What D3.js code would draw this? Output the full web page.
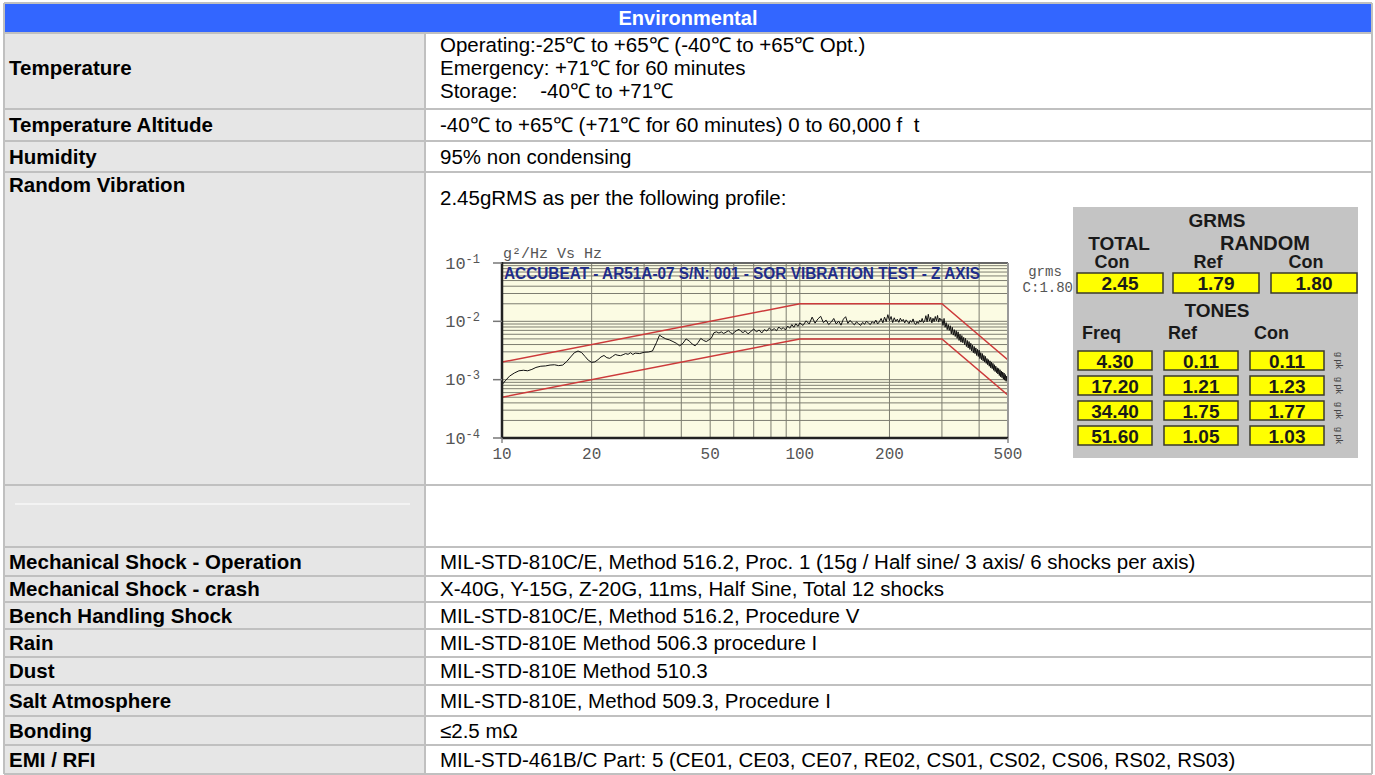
<!DOCTYPE html>
<html>
<head>
<meta charset="utf-8">
<script src="https://cdn.jsdelivr.net/npm/d3@7"></script>
<style>
  body { margin: 0; background: #fff; }
  svg text { font-family: "Liberation Sans", Arial, sans-serif; }
  svg text.mono { font-family: "Liberation Mono", "Courier New", monospace; }
</style>
</head>
<body>
<svg id="sheet"></svg>
<script>
// ---- table data ----
const headerTitle = 'Environmental';
const rowLabels = ['Temperature', 'Temperature Altitude', 'Humidity', 'Random Vibration', '',
  'Mechanical Shock - Operation', 'Mechanical Shock - crash', 'Bench Handling Shock', 'Rain',
  'Dust', 'Salt Atmosphere', 'Bonding', 'EMI / RFI'];
const rowValues = [
  ['Operating:-25℃ to +65℃ (-40℃ to +65℃ Opt.)', 'Emergency: +71℃ for 60 minutes', 'Storage:    -40℃ to +71℃'],
  ['-40℃ to +65℃ (+71℃ for 60 minutes) 0 to 60,000 f  t'],
  ['95% non condensing'],
  ['2.45gRMS as per the following profile:'],
  [''],
  ['MIL-STD-810C/E, Method 516.2, Proc. 1 (15g / Half sine/ 3 axis/ 6 shocks per axis)'],
  ['X-40G, Y-15G, Z-20G, 11ms, Half Sine, Total 12 shocks'],
  ['MIL-STD-810C/E, Method 516.2, Procedure V'],
  ['MIL-STD-810E Method 506.3 procedure I'],
  ['MIL-STD-810E Method 510.3'],
  ['MIL-STD-810E, Method 509.3, Procedure I'],
  ['≤2.5 mΩ'],
  ['MIL-STD-461B/C Part: 5 (CE01, CE03, CE07, RE02, CS01, CS02, CS06, RS02, RS03)']
];

// ---- vibration profile data: [Hz, g²/Hz] ----
const chartTitle = 'ACCUBEAT - AR51A-07 S/N: 001 - SOR VIBRATION TEST - Z AXIS';
const xTickLabels = [10, 20, 50, 100, 200, 500];
const yTickExponents = [-1, -2, -3, -4];
const upperLimit = [[10, 0.002], [100, 0.02], [300, 0.02], [500, 0.00217]];
const lowerLimit = [[10, 0.0005], [100, 0.005], [300, 0.005], [500, 0.00054]];
const controlLow = [[10,0.00082],[10.3,0.00098],[10.6,0.00115],[11,0.0013],[11.4,0.00142],[11.8,0.00145],
  [12.2,0.00142],[12.6,0.0015],[13,0.00162],[13.5,0.0017],[14,0.00172],[14.5,0.00178],[15,0.0018],
  [15.5,0.00174],[16,0.00178],[16.5,0.00205],[17,0.00245],[17.5,0.0029],[18,0.0031],[18.5,0.00292],
  [19,0.0025],[19.5,0.00215],[20,0.00198],[20.5,0.00202],[21,0.0022],[21.5,0.00245],[22,0.0026],
  [22.5,0.00238],[23,0.00232],[23.5,0.0025],[24,0.0027],[24.5,0.00262],[25,0.00258],[25.5,0.00268],
  [26,0.0028],[26.5,0.00272],[27,0.0029],[27.5,0.0027],[28,0.00285],[29,0.0028],[30,0.00295],
  [31,0.00298],[32,0.0031],[33,0.0043],[33.8,0.0058],[34.5,0.0054],[35.5,0.005],[36.5,0.0048],
  [37.5,0.0045],[38.5,0.0042],[39.5,0.0038],[40.5,0.0042],[41.5,0.005],[42.5,0.0046],[43.5,0.0041],
  [44.5,0.0038],[45.5,0.0043],[46.5,0.0051],[47.5,0.0047],[48.5,0.0045],[49.5,0.0048]];
const controlMid = [[50.5,0.0052],[51.5,0.0064],[52.5,0.0066],[53.5,0.0063],[54.5,0.0066],[55.5,0.0062],
  [56.5,0.0065],[57.5,0.0069],[58.5,0.0064],[59.5,0.0061],[60.5,0.0066],[61.5,0.007],[62.5,0.0073],
  [63.5,0.0067],[64.5,0.0064],[65.5,0.0069],[67,0.0061],[68.5,0.0067],[70,0.0074],[71.5,0.0066],
  [73,0.0071],[74.5,0.0063],[76,0.0072],[77.5,0.0068],[79,0.0077],[80.5,0.007],[82,0.0075],
  [83.5,0.0069],[85,0.008],[86.5,0.0073],[88,0.0078],[89.5,0.0071],[91,0.0083],[92.5,0.0076],
  [94,0.0088],[95.5,0.0079],[97,0.0091],[98.5,0.0082]];
const controlHigh = [[100,0.0094],[102.5,0.0085],[105,0.0102],[107.5,0.009],[110,0.0118],[112.5,0.0093],
  [115,0.011],[117.5,0.0122],[120,0.0095],[122.5,0.0105],[125,0.0088],[127.5,0.0097],[130,0.0112],
  [132.5,0.009],[135,0.0101],[137.5,0.0086],[140,0.0109],[142.5,0.012],[145,0.0092],[147.5,0.0104],
  [150,0.0094],[152.5,0.0087],[155,0.0098],[157.5,0.0091],[160,0.0085],[162.5,0.0096],[165,0.0089],
  [167.5,0.0101],[170,0.0093],[172.5,0.0088],[175,0.0099],[177.5,0.0092],[180,0.0105],[182.5,0.009],
  [185,0.0098],[187.5,0.0112],[190,0.0094],[192.5,0.0118],[195,0.0099],[197.5,0.013],[200,0.0103],
  [202.5,0.0121],[205,0.0095],[207.5,0.0115],[210,0.01],[212.5,0.0109],[215,0.0096],[217.5,0.0113],
  [220,0.0101],[222.5,0.0108],[225,0.0094],[227.5,0.0106],[230,0.0099],[232.5,0.0091],[235,0.0103],
  [237.5,0.0096],[240,0.011],[242.5,0.0093],[245,0.0088],[247.5,0.0099],[250,0.0092],[252.5,0.0104],
  [255,0.0097],[257.5,0.0112],[260,0.0095],[262.5,0.0101],[265,0.0125],[267.5,0.0098],[270,0.0132],
  [272.5,0.0101],[275,0.0117],[277.5,0.0094],[280,0.0113],[282.5,0.0099],[285,0.0121],[287.5,0.0102],
  [290,0.0126],[292.5,0.0097],[295,0.0114],[297.5,0.0103]];
const controlRolloff = [[300,0.0108],[302.5,0.0085],[305,0.0112],[307.5,0.0079],[310,0.0095],
  [312.5,0.0072],[315,0.0088],[317.5,0.007],[320,0.0084],[322.5,0.0061],[325,0.0079],[327.5,0.0058],
  [330,0.0072],[332.5,0.0055],[335,0.0069],[337.5,0.0051],[340,0.0066],[342.5,0.0047],[345,0.006],
  [347.5,0.0044],[350,0.0057],[352.5,0.0043],[355,0.0053],[357.5,0.004],[360,0.0051],[362.5,0.0037],
  [365,0.0047],[367.5,0.0035],[370,0.0045],[372.5,0.0033],[375,0.0042],[377.5,0.0031],[380,0.0039],
  [382.5,0.0029],[385,0.0037],[387.5,0.0028],[390,0.0035],[392.5,0.0026],[395,0.0033],[397.5,0.0025],
  [400,0.0032],[402.5,0.0023],[405,0.0029],[407.5,0.0022],[410,0.0028],[412.5,0.0021],[415,0.0026],
  [417.5,0.002],[420,0.0025],[422.5,0.0019],[425,0.0023],[427.5,0.0018],[430,0.0022],[432.5,0.0017],
  [435,0.0021],[437.5,0.0016],[440,0.002],[442.5,0.00155],[445,0.0019],[447.5,0.00145],[450,0.0018],
  [452.5,0.00138],[455,0.0017],[457.5,0.00132],[460,0.0016],[462.5,0.00125],[465,0.00155],
  [467.5,0.00118],[470,0.00148],[472.5,0.00112],[475,0.0014],[477.5,0.00108],[480,0.00135],
  [482.5,0.00102],[485,0.0013],[487.5,0.00098],[490,0.00122],[492.5,0.00094],[495,0.00115],
  [497.5,0.00092],[500,0.00105]];

// ---- GRMS panel data ----
const grmsValues = ['2.45', '1.79', '1.80'];
const grmsHeads = ['Con', 'Ref', 'Con'];
const toneHeads = ['Freq', 'Ref', 'Con'];
const toneFreq = ['4.30', '17.20', '34.40', '51.60'];
const toneRef = ['0.11', '1.21', '1.75', '1.05'];
const toneCon = ['0.11', '1.23', '1.77', '1.03'];
const controlGrms = 'C:1.80';

// ---- layout ----
const W = 1375, H = 775;
const table = {left: 4, right: 1372, split: 425, headTop: 3, headBottom: 33,
  edges: [33, 109, 141, 172, 485, 547, 576, 602, 629, 657, 685, 716, 745, 774],
  labelX: 9, valueX: 440, firstLine: 12, lineGap: 23};
const borderColor = '#c0c0c0';
const bodySize = 20.5;

const svg = d3.select('#sheet').attr('width', W).attr('height', H);

const rows = rowLabels.map((label, i) => ({
  label, lines: rowValues[i], top: table.edges[i], bottom: table.edges[i + 1]
}));

// header
svg.append('rect')
  .attr('x', table.left).attr('y', table.headTop)
  .attr('width', table.right - table.left).attr('height', table.headBottom - table.headTop)
  .attr('fill', '#3366ff');
svg.append('text')
  .attr('x', (table.left + table.right) / 2).attr('y', (table.headTop + table.headBottom) / 2)
  .attr('dy', '0.36em').attr('text-anchor', 'middle')
  .attr('fill', '#fff').attr('font-weight', 'bold').attr('font-size', 20)
  .text(headerTitle);

// cell backgrounds
svg.selectAll('.label-cell').data(rows).join('rect')
  .attr('class', 'label-cell')
  .attr('x', table.left).attr('y', d => d.top)
  .attr('width', table.split - table.left).attr('height', d => d.bottom - d.top)
  .attr('fill', '#e6e6e6');

// faint rule in the empty row
const emptyRow = rows[4];
svg.append('line')
  .attr('x1', 15).attr('x2', 410)
  .attr('y1', emptyRow.top + 19).attr('y2', emptyRow.top + 19)
  .attr('stroke', '#f3f3f3').attr('stroke-width', 2);

// label y: Temperature centred on its 3-line block, Random Vibration at the top
function labelY(d, i) {
  if (i === 0) return d.top + table.firstLine + table.lineGap;
  if (i === 3) return d.top + 13;
  return (d.top + d.bottom) / 2;
}

svg.selectAll('.row-label').data(rows).join('text')
  .attr('class', 'row-label')
  .attr('x', table.labelX)
  .attr('y', labelY)
  .attr('dy', '0.36em')
  .attr('font-weight', 'bold').attr('font-size', bodySize).attr('fill', '#000')
  .text(d => d.label);

rows.forEach((row, i) => {
  row.lines.forEach((line, j) => {
    let y;
    if (i === 0) y = row.top + table.firstLine + j * table.lineGap;
    else if (i === 3) y = row.top + 26;
    else y = (row.top + row.bottom) / 2;
    svg.append('text')
      .attr('x', table.valueX).attr('y', y).attr('dy', '0.36em')
      .attr('font-size', bodySize).attr('fill', '#000')
      .style('white-space', 'pre')
      .text(line);
  });
});

// borders
const hEdges = [table.headTop].concat(table.edges);
svg.selectAll('.h-border').data(hEdges).join('line')
  .attr('class', 'h-border')
  .attr('x1', table.left).attr('x2', table.right)
  .attr('y1', d => d).attr('y2', d => d)
  .attr('stroke', borderColor).attr('stroke-width', 2);
svg.append('line')
  .attr('x1', table.split).attr('x2', table.split)
  .attr('y1', table.headBottom).attr('y2', table.edges[table.edges.length - 1])
  .attr('stroke', borderColor).attr('stroke-width', 2);
[table.left, table.right].forEach(x => svg.append('line')
  .attr('x1', x).attr('x2', x)
  .attr('y1', table.headTop).attr('y2', table.edges[table.edges.length - 1])
  .attr('stroke', borderColor).attr('stroke-width', 2));

// ---- vibration plot ----
const plot = {left: 502, right: 1008, top: 263, bottom: 438};
const xScale = d3.scaleLog().domain([10, 500]).range([plot.left, plot.right]);
const yScale = d3.scaleLog().domain([1e-4, 1e-1]).range([plot.bottom, plot.top]);

const chart = svg.append('g').attr('class', 'psd-chart');

chart.append('rect')
  .attr('x', plot.left).attr('y', plot.top)
  .attr('width', plot.right - plot.left).attr('height', plot.bottom - plot.top)
  .attr('fill', '#fbfbe3');

chart.selectAll('.h-grid').data(yScale.ticks()).join('line')
  .attr('class', 'h-grid')
  .attr('x1', plot.left).attr('x2', plot.right)
  .attr('y1', d => yScale(d)).attr('y2', d => yScale(d))
  .attr('stroke', '#7d7d70').attr('stroke-width', 1);

chart.selectAll('.v-grid').data(xScale.ticks().filter(d => d > 10 && d < 500)).join('line')
  .attr('class', 'v-grid')
  .attr('x1', d => xScale(d)).attr('x2', d => xScale(d))
  .attr('y1', plot.top).attr('y2', plot.bottom)
  .attr('stroke', '#7d7d70').attr('stroke-width', 1);

chart.append('text')
  .attr('x', plot.left + 2).attr('y', plot.top + 10)
  .attr('dy', '0.36em')
  .attr('font-size', 16).attr('font-weight', 'bold').attr('fill', '#1f2d8a')
  .attr('textLength', 476).attr('lengthAdjust', 'spacingAndGlyphs')
  .text(chartTitle);

chart.append('clipPath').attr('id', 'plot-clip')
  .append('rect')
  .attr('x', plot.left).attr('y', plot.top)
  .attr('width', plot.right - plot.left).attr('height', plot.bottom - plot.top);

const line = d3.line().x(d => xScale(d[0])).y(d => yScale(d[1]));

chart.selectAll('.limit').data([upperLimit, lowerLimit]).join('path')
  .attr('class', 'limit')
  .attr('d', line)
  .attr('fill', 'none').attr('stroke', '#cc3a3a').attr('stroke-width', 1.5)
  .attr('clip-path', 'url(#plot-clip)');

chart.append('path')
  .datum(controlLow.concat(controlMid, controlHigh, controlRolloff))
  .attr('d', line)
  .attr('fill', 'none').attr('stroke', '#111').attr('stroke-width', 1)
  .attr('clip-path', 'url(#plot-clip)');

// frame
chart.append('line').attr('x1', plot.left).attr('x2', plot.right).attr('y1', plot.top).attr('y2', plot.top)
  .attr('stroke', '#666').attr('stroke-width', 2);
chart.append('line').attr('x1', plot.right).attr('x2', plot.right).attr('y1', plot.top).attr('y2', plot.bottom)
  .attr('stroke', '#999').attr('stroke-width', 2);
chart.append('line').attr('x1', plot.left).attr('x2', plot.left).attr('y1', plot.top - 1).attr('y2', plot.bottom + 1)
  .attr('stroke', '#222').attr('stroke-width', 2.5);
chart.append('line').attr('x1', plot.left).attr('x2', plot.right).attr('y1', plot.bottom).attr('y2', plot.bottom)
  .attr('stroke', '#222').attr('stroke-width', 2.5);

// y axis ticks and labels
chart.selectAll('.y-tick').data(yTickExponents).join('line')
  .attr('class', 'y-tick')
  .attr('x1', plot.left - 9).attr('x2', plot.left)
  .attr('y1', d => yScale(Math.pow(10, d))).attr('y2', d => yScale(Math.pow(10, d)))
  .attr('stroke', '#777').attr('stroke-width', 1.5);

const yLabels = chart.selectAll('.y-label').data(yTickExponents).join('text')
  .attr('class', 'mono y-label')
  .attr('x', plot.left - 22).attr('y', d => yScale(Math.pow(10, d)) - 1)
  .attr('dy', '0.4em').attr('text-anchor', 'end')
  .attr('font-size', 17).attr('fill', '#555');
yLabels.append('tspan').text('10');
yLabels.append('tspan').attr('dy', '-0.5em').attr('font-size', 12).text(d => '-' + Math.abs(d));

// x axis labels
chart.selectAll('.x-label').data(xTickLabels).join('text')
  .attr('class', 'mono x-label')
  .attr('x', d => xScale(d)).attr('y', plot.bottom + 15)
  .attr('dy', '0.36em').attr('text-anchor', 'middle')
  .attr('font-size', 16).attr('fill', '#555')
  .text(d => d);
chart.selectAll('.x-tick').data([10, 500]).join('line')
  .attr('class', 'x-tick')
  .attr('x1', d => xScale(d)).attr('x2', d => xScale(d))
  .attr('y1', plot.bottom).attr('y2', plot.bottom + 5)
  .attr('stroke', '#888').attr('stroke-width', 1.5);

chart.append('text')
  .attr('class', 'mono')
  .attr('x', plot.left + 1).attr('y', plot.top - 10)
  .attr('dy', '0.36em')
  .attr('font-size', 15).attr('fill', '#555')
  .text('g²/Hz Vs Hz');

chart.append('text').attr('class', 'mono')
  .attr('x', 1045).attr('y', 271).attr('dy', '0.36em').attr('text-anchor', 'middle')
  .attr('font-size', 14).attr('fill', '#555').text('grms');
chart.append('text').attr('class', 'mono')
  .attr('x', 1073).attr('y', 287).attr('dy', '0.36em').attr('text-anchor', 'end')
  .attr('font-size', 14).attr('fill', '#555').text(controlGrms);

// ---- GRMS panel ----
const panel = {left: 1073, right: 1358, top: 207, bottom: 458};
const gp = svg.append('g').attr('class', 'grms-panel');
gp.append('rect')
  .attr('x', panel.left).attr('y', panel.top)
  .attr('width', panel.right - panel.left).attr('height', panel.bottom - panel.top)
  .attr('fill', '#c4c4c4');

const ink = '#1a1a1a';
function panelText(x, y, txt, size) {
  gp.append('text').attr('x', x).attr('y', y).attr('dy', '0.36em')
    .attr('text-anchor', 'middle')
    .attr('font-weight', 'bold').attr('font-size', size).attr('fill', ink)
    .text(txt);
}

const topBoxes = {x: [1077, 1173, 1271], w: 86, y: 273, h: 20};
panelText(1217, 220, 'GRMS', 19);
panelText(1119, 243, 'TOTAL', 19);
panelText(1265, 243, 'RANDOM', 20);

gp.selectAll('.grms-head').data(grmsHeads).join('text')
  .attr('class', 'grms-head')
  .attr('x', (d, i) => topBoxes.x[i] + topBoxes.w / 2 - 8).attr('y', 262).attr('dy', '0.36em')
  .attr('text-anchor', 'middle').attr('font-weight', 'bold').attr('font-size', 18).attr('fill', ink)
  .text(d => d);

gp.selectAll('.grms-box').data(grmsValues).join('rect')
  .attr('class', 'grms-box')
  .attr('x', (d, i) => topBoxes.x[i]).attr('y', topBoxes.y)
  .attr('width', topBoxes.w).attr('height', topBoxes.h)
  .attr('fill', '#ffff00').attr('stroke', '#3a3a2a').attr('stroke-width', 1.5);
gp.selectAll('.grms-val').data(grmsValues).join('text')
  .attr('class', 'grms-val')
  .attr('x', (d, i) => topBoxes.x[i] + topBoxes.w / 2).attr('y', topBoxes.y + topBoxes.h / 2)
  .attr('dy', '0.37em').attr('text-anchor', 'middle')
  .attr('font-weight', 'bold').attr('font-size', 19).attr('fill', ink)
  .text(d => d);

panelText(1217, 310, 'TONES', 19);

const toneBoxes = {x: [1078, 1164, 1250], w: 74, y: [351, 376, 401, 426], h: 19};
gp.selectAll('.tone-head').data(toneHeads).join('text')
  .attr('class', 'tone-head')
  .attr('x', (d, i) => toneBoxes.x[i] + 4).attr('y', 333).attr('dy', '0.36em')
  .attr('font-weight', 'bold').attr('font-size', 18).attr('fill', ink)
  .text(d => d);

const toneCols = [toneFreq, toneRef, toneCon];
toneCols.forEach((col, c) => {
  gp.selectAll('.tone-box-' + c).data(col).join('rect')
    .attr('class', 'tone-box-' + c)
    .attr('x', toneBoxes.x[c]).attr('y', (d, r) => toneBoxes.y[r])
    .attr('width', toneBoxes.w).attr('height', toneBoxes.h)
    .attr('fill', '#ffff00').attr('stroke', '#3a3a2a').attr('stroke-width', 1.5);
  gp.selectAll('.tone-val-' + c).data(col).join('text')
    .attr('class', 'tone-val-' + c)
    .attr('x', toneBoxes.x[c] + toneBoxes.w / 2).attr('y', (d, r) => toneBoxes.y[r] + toneBoxes.h / 2)
    .attr('dy', '0.37em').attr('text-anchor', 'middle')
    .attr('font-weight', 'bold').attr('font-size', 19).attr('fill', ink)
    .text(d => d);
});

gp.selectAll('.pk').data(toneFreq).join('text')
  .attr('class', 'pk')
  .attr('transform', (d, r) => `translate(1339,${toneBoxes.y[r] + toneBoxes.h / 2}) rotate(90)`)
  .attr('text-anchor', 'middle').attr('dy', '0.35em')
  .attr('font-size', 9).attr('fill', '#444')
  .text('g pk');
</script>
</body>
</html>
